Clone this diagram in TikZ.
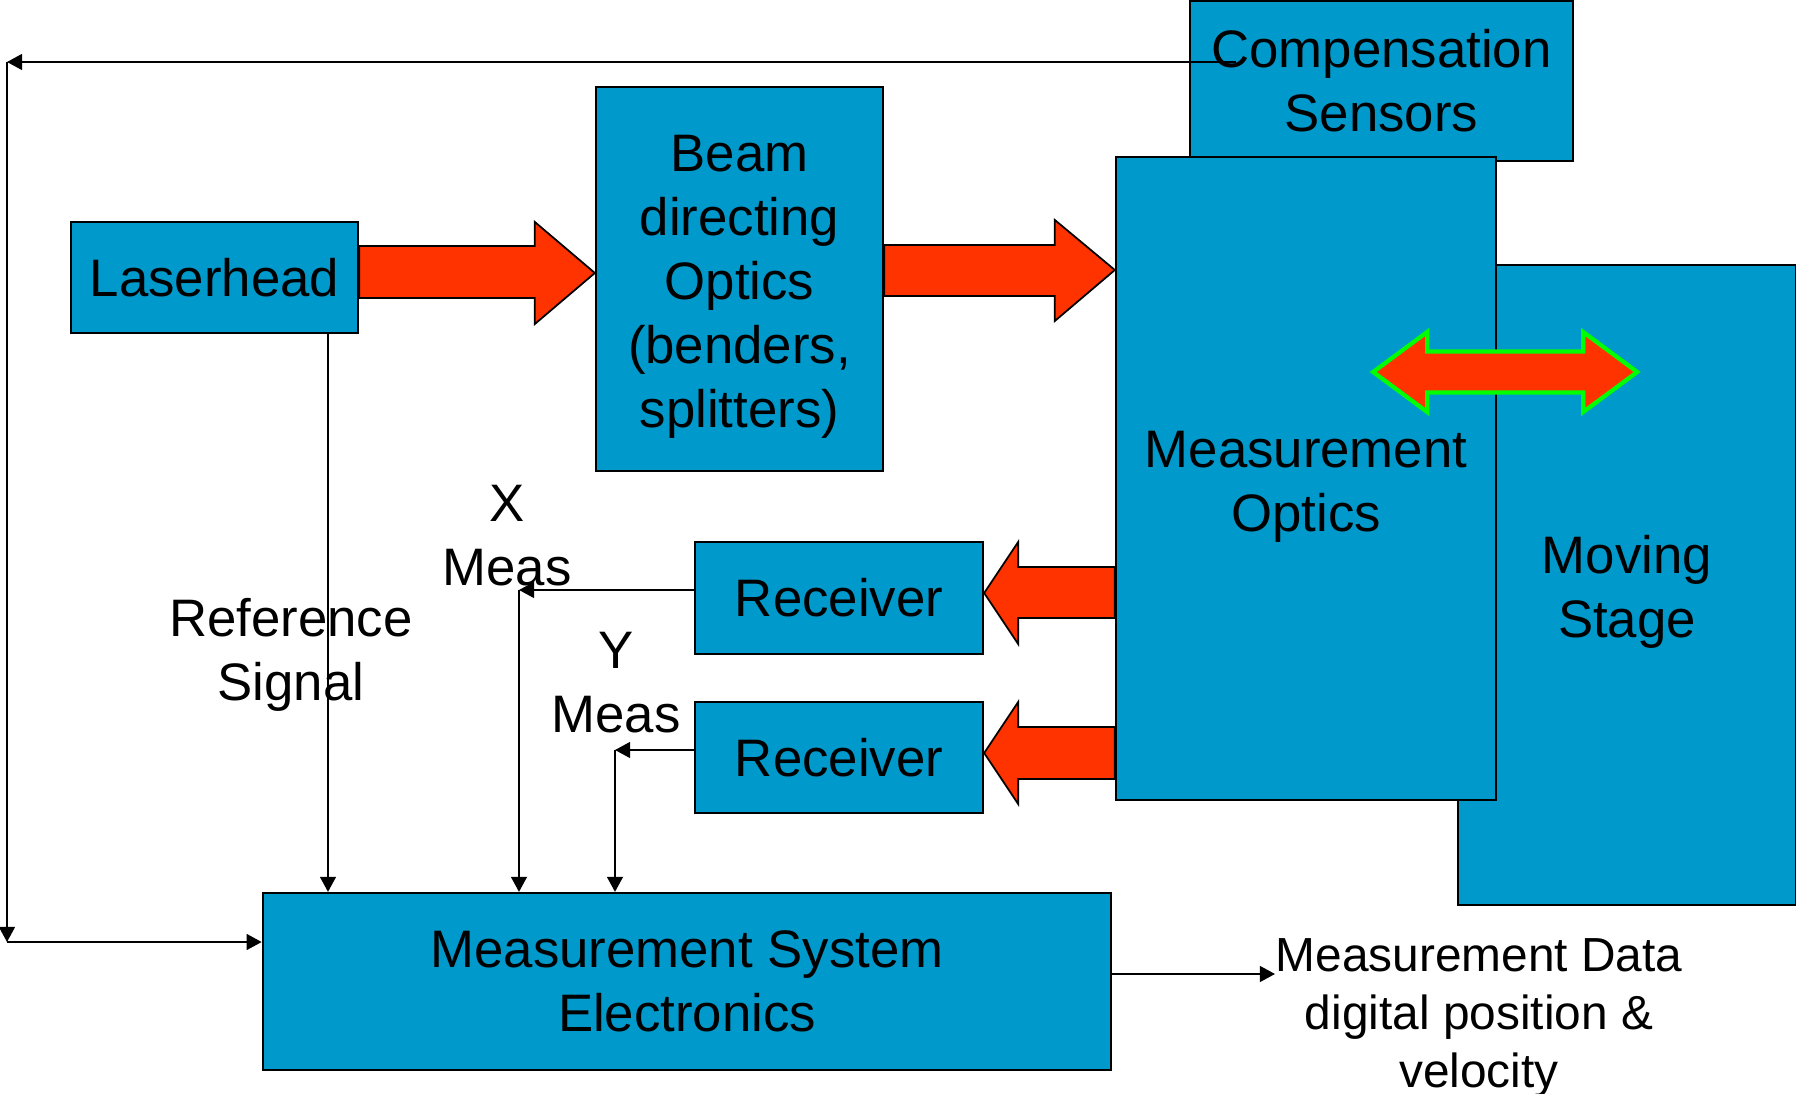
\documentclass[tikz,border=0pt]{standalone}
\usepackage{fontspec}
\setmainfont{Liberation Sans}
\usetikzlibrary{arrows.meta, calc}
\definecolor{boxblue}{RGB}{0, 153, 204}
\definecolor{beamred}{RGB}{255, 51, 0}
\definecolor{stagegreen}{RGB}{0, 255, 0}
\newcommand{\topgap}{\rule{0pt}{15pt}}
\tikzset{
    box/.style={rectangle, draw=black, fill=boxblue, line width=0.6pt,
        inner sep=0pt, align=center, font=\fontsize{15}{18.2}\selectfont},
    sigtext/.style={inner sep=0pt, align=center, font=\fontsize{15}{18.2}\selectfont},
    datatext/.style={inner sep=0pt, align=center, font=\fontsize{13.6}{16.5}\selectfont},
    fatarrow/.style={draw=black, fill=beamred, line width=0.5pt},
    movearrow/.style={draw=stagegreen, fill=beamred, line width=1.2pt},
    signal/.style={line width=0.6pt, -{Triangle[length=4.3pt, width=4.5pt]}},
}

\begin{document}
\begin{tikzpicture}[x=0.01cm, y=-0.01cm]
    \useasboundingbox (0,0) rectangle (1796,1094);

    % blocks, back to front
    \node[box, minimum width=3.83cm, minimum height=1.60cm] (comp) at (1381.5,81) {Compensation\\Sensors};
    \node[box, minimum width=3.38cm, minimum height=6.40cm] (stage) at (1627,585) {\topgap Moving\\Stage};
    \node[box, minimum width=3.80cm, minimum height=6.43cm] (mo) at (1306,478.5) {\topgap Measurement\\Optics};
    \node[box, minimum width=2.87cm, minimum height=1.11cm] (laser) at (214.5,277.5) {Laserhead};
    \node[box, minimum width=2.87cm, minimum height=3.84cm] (beam) at (739.5,279) {\topgap Beam\\directing\\Optics\\(benders,\\splitters)};
    \node[box, minimum width=2.88cm, minimum height=1.12cm] (rec1) at (839,598) {Receiver};
    \node[box, minimum width=2.88cm, minimum height=1.11cm] (rec2) at (839,757.5) {Receiver};
    \node[box, minimum width=8.48cm, minimum height=1.77cm] (mse) at (687,981.5) {Measurement System\\Electronics};

    % beam arrows
    \coordinate (t1) at (beam.west |- 0,273);
    \draw[fatarrow] (t1) -- ++(-60,-51) -- ++(0,24) -- (laser.east |- 0,246)
        -- (laser.east |- 0,298) -- ($(t1)+(-60,25)$) -- ++(0,26) -- cycle;
    \coordinate (t2) at (mo.west |- 0,270);
    \draw[fatarrow] (t2) -- ++(-60,-50) -- ++(0,25) -- (beam.east |- 0,245)
        -- (beam.east |- 0,296) -- ($(t2)+(-60,26)$) -- ++(0,25) -- cycle;
    \coordinate (t3) at (rec1.east |- 0,593);
    \draw[fatarrow] (t3) -- ++(34,-51) -- ++(0,25) -- (mo.west |- 0,567)
        -- (mo.west |- 0,618) -- ($(t3)+(34,25)$) -- ++(0,26) -- cycle;
    \coordinate (t4) at (rec2.east |- 0,753);
    \draw[fatarrow] (t4) -- ++(34,-51) -- ++(0,25) -- (mo.west |- 0,727)
        -- (mo.west |- 0,779) -- ($(t4)+(34,26)$) -- ++(0,25) -- cycle;

    % stage motion
    \coordinate (dc) at ($(mo.east |- 0,372)+(8,0)$);
    \draw[movearrow] ($(dc)+(-132,0)$) -- ++(54,-40) -- ++(0,19.5) -- ++(156,0)
        -- ++(0,-19.5) -- ++(54,40) -- ++(-54,40) -- ++(0,-19.5) -- ++(-156,0)
        -- ++(0,19.5) -- cycle;

    % signal lines
    \coordinate (cs) at ($(comp.west)+(47,-19)$);
    \coordinate (tl) at (7,62);
    \coordinate (bl) at (7,942);
    \draw[signal] (cs) -- (tl);
    \draw[signal] (tl) -- (bl);
    \draw[signal] (bl) -- (mse.west |- bl);

    \coordinate (refx) at (328,0);
    \draw[signal] (laser.south -| refx) -- (mse.north -| refx);

    \coordinate (xm) at (519,590);
    \coordinate (ym) at (615,750);
    \draw[signal] (rec1.west |- xm) -- (xm);
    \draw[signal] (xm) -- (xm |- mse.north);
    \draw[signal] (rec2.west |- ym) -- (ym);
    \draw[signal] (ym) -- (ym |- mse.north);

    \coordinate (dout) at (1275,974);
    \draw[signal] (mse.east |- dout) -- (dout);

    % labels
    \node[sigtext] (xmeas) at (507,536) {X\\Meas};
    \node[sigtext] (ymeas) at (616,683) {Y\\Meas};
    \node[sigtext] (reflabel) at (291,655) {Reference\\Signal};
    \node[datatext] (data) at (1479,1018) {Measurement Data\\digital position \&\\velocity};
\end{tikzpicture}
\end{document}
